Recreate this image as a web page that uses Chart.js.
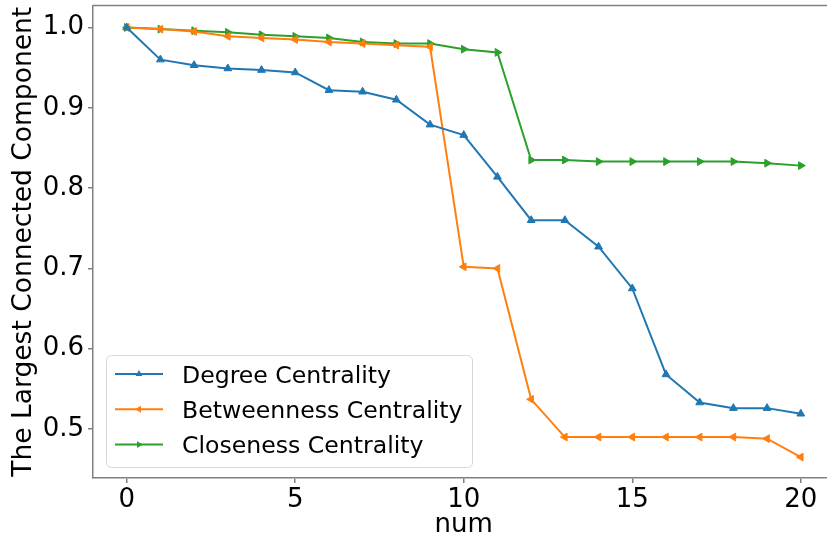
<!DOCTYPE html>
<html><head><meta charset="utf-8">
<style>
html,body{margin:0;padding:0;overflow:hidden;background:#fff;width:827px;height:542px}
#wrap{position:absolute;left:0;top:0;width:840px;height:542px}
</style>
<script src="https://cdn.jsdelivr.net/npm/chart.js"></script>
</head><body><div id="wrap"><canvas id="c" width="840" height="542"></canvas></div>
<script>
const xValues = [0,1,2,3,4,5,6,7,8,9,10,11,12,13,14,15,16,17,18,19,20];
const degree = [1.000,0.960,0.953,0.949,0.947,0.944,0.922,0.920,0.910,0.879,0.866,0.814,0.760,0.760,0.727,0.675,0.568,0.533,0.526,0.526,0.519];
const betweenness = [1.000,0.998,0.995,0.989,0.987,0.985,0.982,0.980,0.978,0.976,0.702,0.700,0.537,0.490,0.490,0.490,0.490,0.490,0.490,0.488,0.465];
const closeness = [1.000,0.998,0.996,0.994,0.991,0.989,0.987,0.982,0.980,0.980,0.973,0.969,0.835,0.835,0.833,0.833,0.833,0.833,0.833,0.831,0.828];
const seriesLabels = ['Degree Centrality','Betweenness Centrality','Closeness Centrality'];
const seriesColors = ['#1f77b4','#ff7f0e','#2ca02c'];
const markerRotations = [0,-90,90];
const xTicks = [0,5,10,15,20];
const yTicks = [0.5,0.6,0.7,0.8,0.9,1.0];
const xLabel = 'num';
const yLabel = 'The Largest Connected Component';

const FONT = 'DejaVu Sans';
const SPINE = '#808080';

function mk(vals, i){
  return {
    label: seriesLabels[i],
    data: xValues.map((x,k)=>({x:x,y:vals[k]})),
    borderColor: seriesColors[i],
    backgroundColor: seriesColors[i],
    pointBackgroundColor: seriesColors[i],
    pointBorderColor: seriesColors[i],
    pointStyle: 'triangle',
    pointRotation: markerRotations[i],
    pointRadius: 4.5,
    pointBorderWidth: 1,
    borderWidth: 2,
    tension: 0,
    fill: false
  };
}

function drawTri(ctx, x, y, r, rot, color){
  ctx.save();
  ctx.translate(x,y);
  ctx.rotate(rot*Math.PI/180);
  ctx.beginPath();
  ctx.moveTo(0,-r);
  ctx.lineTo(r*Math.sin(Math.PI*2/3), -r*Math.cos(Math.PI*2/3));
  ctx.lineTo(-r*Math.sin(Math.PI*2/3), -r*Math.cos(Math.PI*2/3));
  ctx.closePath();
  ctx.fillStyle = color; ctx.fill();
  ctx.restore();
}

const framePlugin = {
  id: 'frameLegend',
  afterDraw(chart){
    const ctx = chart.ctx, a = chart.chartArea;
    ctx.save();
    ctx.strokeStyle = SPINE; ctx.lineWidth = 1.5;
    ctx.beginPath();
    ctx.moveTo(a.left, a.top); ctx.lineTo(a.right, a.top); ctx.lineTo(a.right, a.bottom);
    ctx.stroke();
    // legend
    const bx = a.left + 13, by = a.bottom - 123, bw = 366, bh = 112;
    ctx.beginPath();
    if (ctx.roundRect) ctx.roundRect(bx+0.5, by+0.5, bw, bh, 5); else ctx.rect(bx+0.5,by+0.5,bw,bh);
    ctx.fillStyle = 'rgba(255,255,255,0.8)'; ctx.fill();
    ctx.strokeStyle = '#d6d6d6'; ctx.lineWidth = 1; ctx.stroke();
    ctx.font = '23.6px "' + FONT + '"';
    ctx.textBaseline = 'alphabetic';
    ctx.textAlign = 'left';
    chart.data.datasets.forEach((ds, i) => {
      const cy = by + 19 + i*35.3;
      ctx.strokeStyle = ds.borderColor; ctx.lineWidth = 2;
      ctx.beginPath(); ctx.moveTo(bx+9, cy); ctx.lineTo(bx+57, cy); ctx.stroke();
      drawTri(ctx, bx+33, cy, 4, ds.pointRotation, ds.borderColor);
      ctx.fillStyle = '#000';
      ctx.fillText(ds.label, bx+76, cy+8.5);
    });
    ctx.restore();
  }
};

new Chart(document.getElementById('c'), {
  type: 'line',
  data: { datasets: [mk(degree,0), mk(betweenness,1), mk(closeness,2)] },
  options: {
    responsive: false,
    devicePixelRatio: 1,
    animation: false,
    layout: { padding: { top: 5, right: 4, left: 0, bottom: 0 } },
    plugins: { legend: { display: false }, tooltip: { enabled: false } },
    scales: {
      x: {
        type: 'linear', min: -1, max: 21,
        afterBuildTicks: s => { s.ticks = xTicks.map(v => ({ value: v })); },
        afterFit: s => { s.height = 64; s.paddingLeft = 0; s.paddingRight = 0; },
        ticks: { font: { family: FONT, size: 26 }, color: '#000', padding: 2, maxRotation: 0 },
        grid: { drawOnChartArea: false, drawTicks: true, tickLength: 5, color: SPINE, lineWidth: 1.5 },
        border: { display: true, color: SPINE, width: 1.5 },
        title: { display: true, text: xLabel, font: { family: FONT, size: 26 }, color: '#000', padding: { top: 0, bottom: 1 } }
      },
      y: {
        type: 'linear', min: 0.439, max: 1.0274,
        afterBuildTicks: s => { s.ticks = yTicks.map(v => ({ value: v })); },
        afterFit: s => { s.width = 93; s.paddingTop = 0; s.paddingBottom = 0; },
        ticks: { font: { family: FONT, size: 26 }, color: '#000', padding: 4, callback: v => v.toFixed(1) },
        grid: { drawOnChartArea: false, drawTicks: true, tickLength: 5, color: SPINE, lineWidth: 1.5 },
        border: { display: true, color: SPINE, width: 1.5 },
        title: { display: true, text: yLabel, font: { family: FONT, size: 26.5 }, color: '#000', padding: { top: 8, bottom: 0 } }
      }
    }
  },
  plugins: [framePlugin]
});
</script>
</body></html>
